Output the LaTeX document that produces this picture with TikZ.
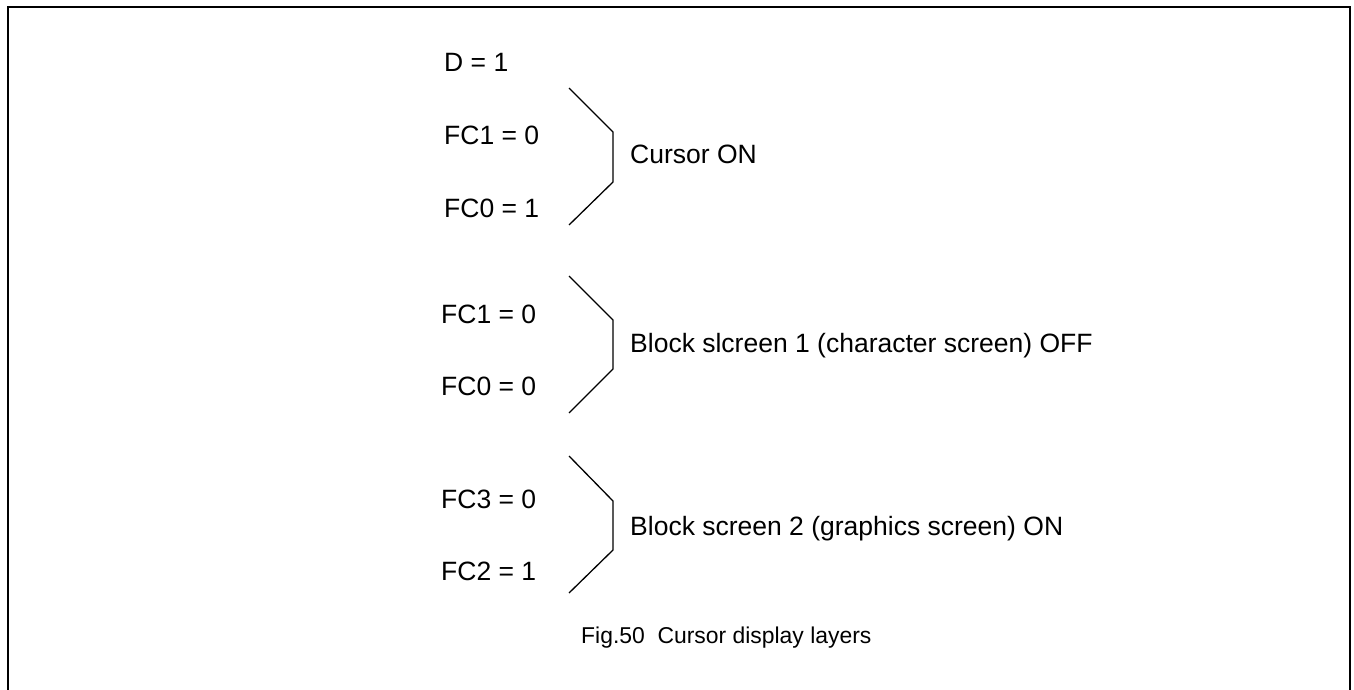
\documentclass[tikz,border=0pt]{standalone}
\usepackage{fontspec}
\setmainfont{Liberation Sans}
\begin{document}
\begin{tikzpicture}[x=1pt,y=-1pt,
  lbl/.style={anchor=base west,inner sep=0pt,font=\fontsize{26.5}{30}\selectfont},
  captxt/.style={anchor=base west,inner sep=0pt,font=\fontsize{22.9}{26}\selectfont},
  brk/.style={draw,line width=1.3pt,line join=miter},
  framebox/.style={draw,line width=2.2pt}]
\useasboundingbox (0,0) rectangle (1354,690);
\clip (0,0) rectangle (1354,690);
\draw[framebox] (8,700) -- (8,7) -- (1350,7) -- (1350,700);
% group 1
\node[lbl] (d) at (444,72) {D = 1};
\node[lbl] (fc1a) at (444,145) {FC1 = 0};
\node[lbl] (fc0a) at (444,217) {FC0 = 1};
\node[lbl] (cur) at (630,163) {Cursor ON};
\draw[brk] (569,88) -- (613,132) -- (613,182) -- (569,225);
% group 2
\node[lbl] (fc1b) at (441,323) {FC1 = 0};
\node[lbl] (fc0b) at (441,395) {FC0 = 0};
\node[lbl] (bs1) at (630,352) {Block slcreen 1 (character screen) OFF};
\draw[brk] (569,276) -- (613,320) -- (613,369) -- (569,413);
% group 3
\node[lbl] (fc3) at (441,508) {FC3 = 0};
\node[lbl] (fc2) at (441,580) {FC2 = 1};
\node[lbl] (bs2) at (630,535) {Block screen 2 (graphics screen) ON};
\draw[brk] (569,456) -- (613,501) -- (613,550) -- (569,593);
% caption
\node[captxt] (fig) at (581,643) {Fig.50\ \ Cursor display layers};
\end{tikzpicture}
\end{document}
